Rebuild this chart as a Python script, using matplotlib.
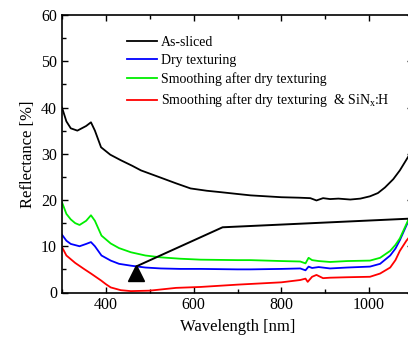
import matplotlib
matplotlib.use("Agg")
import matplotlib.pyplot as plt
from matplotlib.ticker import MultipleLocator

plt.rcParams['font.family'] = ['Liberation Serif', 'DejaVu Serif']

# Data
wl_black = [300, 310, 320, 335, 345, 355, 366, 375, 389, 410, 434, 460, 480, 523, 560, 593, 630, 661, 700, 730, 800, 840, 866, 880, 895, 911, 930, 957, 980, 1002, 1020, 1036, 1055, 1070, 1090, 1100]
r_black = [40.0, 37.0, 35.5, 35.0, 35.5, 36.0, 36.8, 35.0, 31.4, 29.8, 28.6, 27.4, 26.4, 24.9, 23.6, 22.5, 22.0, 21.7, 21.3, 21.0, 20.6, 20.5, 20.4, 19.9, 20.4, 20.2, 20.3, 20.1, 20.3, 20.8, 21.5, 22.7, 24.5, 26.4, 29.5, 31.0]

wl_blue = [300, 310, 320, 340, 355, 366, 375, 390, 411, 430, 457, 490, 525, 570, 616, 700, 730, 800, 843, 855, 862, 870, 885, 911, 950, 1002, 1025, 1048, 1060, 1070, 1085, 1100]
r_blue = [12.5, 11.2, 10.5, 10.0, 10.5, 10.9, 10.0, 8.0, 6.9, 6.2, 5.8, 5.4, 5.2, 5.1, 5.1, 5.0, 5.0, 5.1, 5.2, 4.8, 5.6, 5.3, 5.5, 5.2, 5.4, 5.6, 6.2, 8.0, 9.5, 11.3, 14.5, 17.5]

wl_green = [300, 310, 320, 330, 340, 355, 366, 375, 390, 411, 430, 457, 490, 525, 570, 616, 700, 730, 800, 843, 855, 862, 870, 885, 911, 950, 1002, 1025, 1048, 1060, 1070, 1085, 1100]
r_green = [19.5, 17.0, 15.8, 15.0, 14.6, 15.5, 16.7, 15.5, 12.3, 10.6, 9.6, 8.7, 8.0, 7.6, 7.3, 7.1, 7.0, 7.0, 6.8, 6.7, 6.3, 7.5, 7.0, 6.8, 6.6, 6.8, 6.9, 7.5, 9.0, 10.3, 11.7, 14.8, 18.0]

wl_red = [300, 310, 330, 350, 366, 389, 400, 411, 434, 457, 500, 560, 616, 700, 800, 843, 855, 860, 870, 880, 895, 911, 950, 1002, 1025, 1048, 1060, 1070, 1085, 1100]
r_red = [9.8, 8.0, 6.4, 5.1, 4.1, 2.6, 1.8, 1.1, 0.5, 0.3, 0.4, 1.0, 1.2, 1.7, 2.2, 2.7, 3.0, 2.3, 3.4, 3.8, 3.1, 3.2, 3.3, 3.4, 4.1, 5.4, 7.0, 9.0, 11.2, 13.0]

# Annotation path (data coordinates)
ann_x = [1100, 666, 473]
ann_y = [16.0, 14.1, 5.8]
tri_x = [468]
tri_y = [4.3]

labels = ["As-sliced", "Dry texturing", "Smoothing after dry texturing",
          "Smoothing after dry texturing  & SiN$_\\mathregular{x}$:H"]

fig = plt.figure(figsize=(4.08, 3.38), dpi=100)
ax = fig.add_axes([62/408, 1-292.5/338, (413-62)/408, (292.5-15)/338])

lw = 1.3
ax.plot(wl_black, r_black, color='black', lw=lw, label=labels[0])
ax.plot(wl_blue, r_blue, color='#0000ff', lw=lw, label=labels[1])
ax.plot(wl_green, r_green, color='#00ee00', lw=lw, label=labels[2])
ax.plot(wl_red, r_red, color='#ff0000', lw=lw, label=labels[3])

ax.plot(ann_x, ann_y, color='black', lw=1.4)
ax.plot(tri_x, tri_y, marker='^', color='black', markersize=12, linestyle='none')

ax.set_xlim(300, 1100)
ax.set_ylim(0, 60)
ax.xaxis.set_major_locator(MultipleLocator(200))
ax.xaxis.set_minor_locator(MultipleLocator(100))
ax.yaxis.set_major_locator(MultipleLocator(10))
ax.yaxis.set_minor_locator(MultipleLocator(5))
ax.tick_params(which='both', direction='in', top=True, right=True, labelsize=11.5, width=1)
ax.tick_params(which='major', length=4)
ax.tick_params(which='minor', length=3)
ax.set_xlabel('Wavelength [nm]', fontsize=12)
ax.set_ylabel('Reflectance [%]', fontsize=12)
for s in ax.spines.values():
    s.set_linewidth(1.2)

leg = ax.legend(loc='upper left', bbox_to_anchor=(0.185, 0.925), frameon=False,
                fontsize=10, handlelength=2.2, handletextpad=0.25, labelspacing=0.38,
                borderaxespad=0, borderpad=0)

fig.savefig('out.png', dpi=100)
